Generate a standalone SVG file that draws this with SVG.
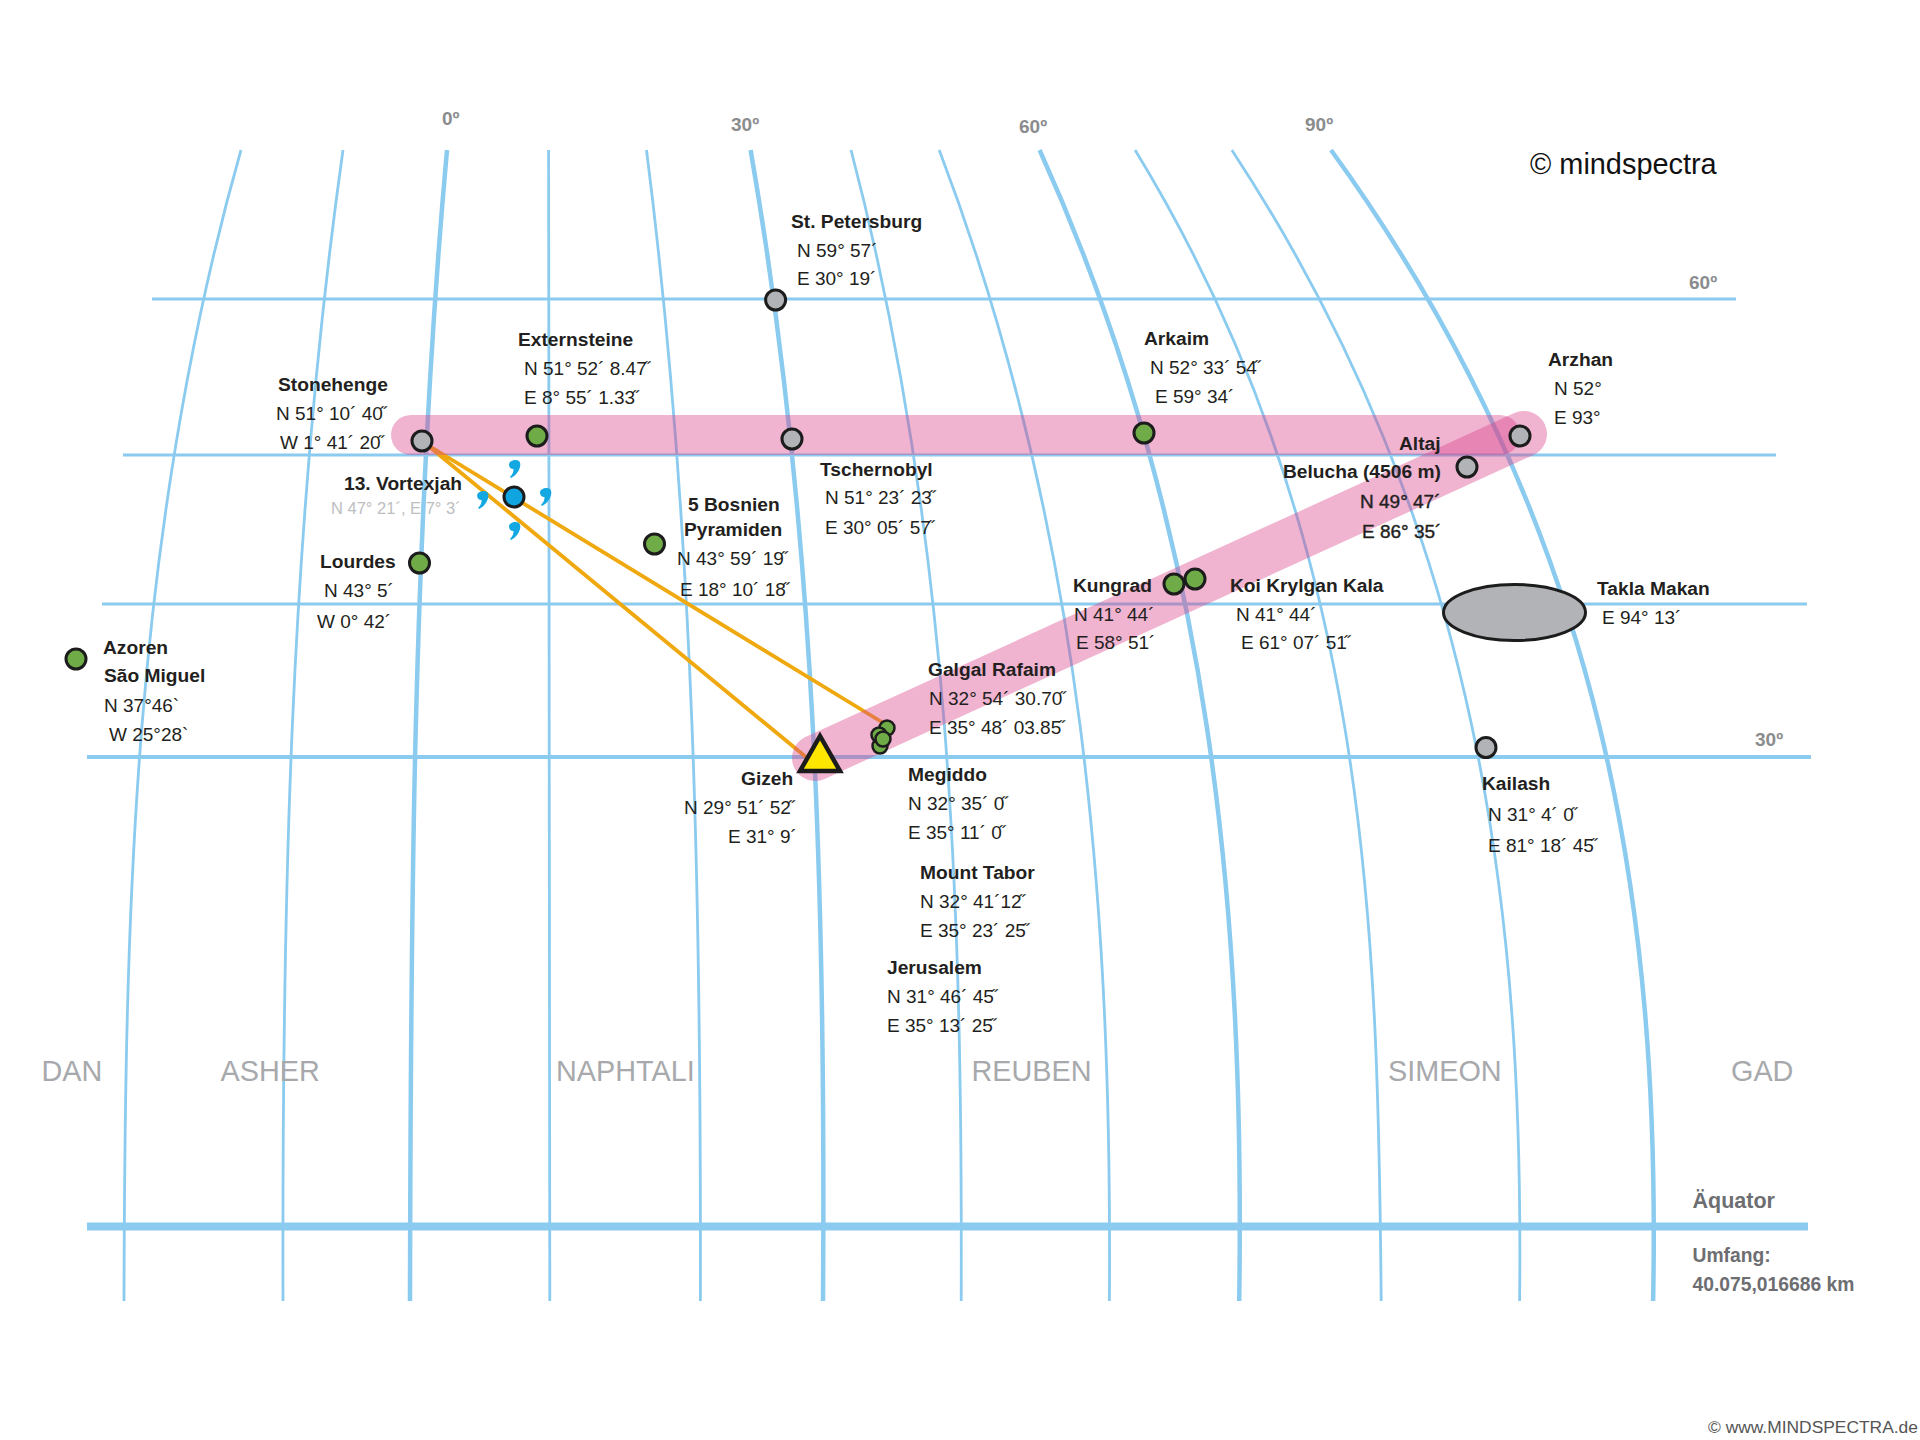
<svg xmlns="http://www.w3.org/2000/svg" width="1920" height="1440" viewBox="0 0 1920 1440">
<style>
text{font-family:"Liberation Sans",Arial,sans-serif;font-size:19px;fill:#231f20}
.b{font-weight:700;font-size:19.2px}
.s{stroke:#231f20;stroke-width:.4}
.g{font-weight:700;fill:#8a8c8e}
.z{font-size:28.800px;fill:#a7a9ac}
.e{font-weight:700;fill:#6d6e71;font-size:19.300px}
.m{fill:none;stroke:#8bcbef;stroke-width:2.800}
.mt{fill:none;stroke:#8bcbef;stroke-width:4.500}
.p{stroke:#8bcbef;stroke-width:3.200}
.band{fill:none;stroke:#d9408a;stroke-opacity:.4;stroke-linecap:round}
.o{stroke:#f0a80f;stroke-width:3.800;fill:none}
.dot{stroke:#1c1c1c;stroke-width:3}
.gr{fill:#b1b3b6}
.gn{fill:#6fab46}
.q{dx:0}
</style>
<defs>
<path id="comma" fill="#14a8e2" d="M1-9C5.500-9 6.500-5.500 5.500-2 4.500 2 1 7-3.500 9L-4.500 8C-2 5.500-1 3-1 0-4 0-5.500-2-5.500-4.500-5.500-7.500-2-9 1-9Z"/>
</defs>
<rect width="1920" height="1440" fill="#fff"/>
<g id="grid">
<path class="m" d="M241 150C132 533 125 917 124 1301"/>
<path class="m" d="M343 150C289 533 282 917 283 1301"/>
<path class="mt" d="M447 150C412.500 533 410.700 917 410 1301"/>
<path class="m" d="M548.600 150C549.800 533 549.800 917 549.800 1301"/>
<path class="m" d="M646.500 150C695.200 533 701.100 917 700.400 1301"/>
<path class="mt" d="M750.600 150C817 533 825.700 917 823 1301"/>
<path class="m" d="M851 150C951.700 533 962.500 917 961.200 1301"/>
<path class="m" d="M939.200 150C1085.200 533 1112 917 1109.400 1301"/>
<path class="mt" d="M1039.600 150C1213.100 533 1244.800 917 1239.200 1301"/>
<path class="m" d="M1135.100 150C1368.500 533 1377.800 917 1381.200 1301"/>
<path class="m" d="M1231.800 150C1483.400 533 1523.900 917 1519.600 1301"/>
<path class="mt" d="M1331 150C1608.900 533 1660.700 917 1653.100 1301"/>
<path class="p" d="M152 299H1736M123 455H1776M102 604H1807"/>
<path class="p" style="stroke-width:4" d="M87 757H1811"/>
<path fill="none" stroke="#8bcbef" stroke-width="8" d="M87 1226.500H1808"/>
</g>
<g id="connectors">
<path class="o" d="M426 444L812 762M426 444L885 724"/>
<path class="band" stroke-width="40" d="M411 435H1500"/>
<path class="band" stroke-width="46" d="M815 758L1524 434"/>
</g>
<g id="axis-labels">
<text class="g" x="442" y="125">0º</text>
<text class="g" x="731" y="131">30º</text>
<text class="g" x="1019" y="133">60º</text>
<text class="g" x="1305" y="131">90º</text>
<text class="g" x="1689" y="289">60º</text>
<text class="g" x="1755" y="746">30º</text>
</g>
<g id="credit"><text x="1530" y="174" style="font-size:28.900px;fill:#111">© mindspectra</text></g>
<g id="st-petersburg"><circle class="dot gr" cx="775.600" cy="300" r="10"/>
<text class="b" x="791" y="228">St. Petersburg</text><text x="797" y="257">N 59° 57´</text><text x="797" y="285">E 30° 19´</text></g>
<g id="stonehenge"><circle class="dot gr" cx="422" cy="441" r="10"/>
<text class="b" x="278" y="391">Stonehenge</text><text x="276" y="420">N 51° 10´ 40<tspan dx="-3">˝</tspan></text><text x="280" y="449">W 1° 41´ 20<tspan dx="-3">˝</tspan></text></g>
<g id="externsteine"><circle class="dot gn" cx="537" cy="436" r="10"/>
<text class="b" x="518" y="346">Externsteine</text><text x="524" y="375">N 51° 52´ 8.47<tspan dx="-3">˝</tspan></text><text x="524" y="404">E 8° 55´ 1.33<tspan dx="-3">˝</tspan></text></g>
<g id="tschernobyl"><circle class="dot gr" cx="792" cy="439" r="10"/>
<text class="b" x="820" y="476">Tschernobyl</text><text x="825" y="504">N 51° 23´ 23<tspan dx="-3">˝</tspan></text><text x="825" y="534">E 30° 05´ 57<tspan dx="-3">˝</tspan></text></g>
<g id="arkaim"><circle class="dot gn" cx="1144" cy="433" r="10"/>
<text class="b" x="1144" y="345">Arkaim</text><text x="1150" y="374">N 52° 33´ 54<tspan dx="-3">˝</tspan></text><text x="1155" y="403">E 59° 34´</text></g>
<g id="arzhan"><circle class="dot gr" cx="1520" cy="436" r="10"/>
<text class="b" x="1548" y="366">Arzhan</text><text x="1554" y="395">N 52°</text><text x="1554" y="424">E 93°</text></g>
<g id="belucha"><circle class="dot gr" cx="1467" cy="467" r="10"/>
<text class="b" x="1399" y="450">Altaj</text><text class="b" x="1283" y="478">Belucha (4506 m)</text><text class="s" x="1360" y="508">N 49° 47´</text><text class="s" x="1362" y="538">E 86° 35´</text></g>
<g id="vortexjah">
<use href="#comma" x="514.500" y="469"/><use href="#comma" x="482.600" y="500"/><use href="#comma" x="545.500" y="497"/><use href="#comma" x="514.500" y="531"/>
<circle cx="514" cy="497" r="10" fill="#10a4e0" stroke="#1c1c1c" stroke-width="3"/>
<text class="b" x="344" y="490">13. Vortexjah</text><text x="331" y="514" style="font-size:16.500px;fill:#bcbec0">N 47° 21´, E 7° 3´</text></g>
<g id="lourdes"><circle class="dot gn" cx="419.500" cy="563" r="10"/>
<text class="b" x="320" y="568">Lourdes</text><text x="324" y="597">N 43° 5´</text><text x="317" y="628">W 0° 42´</text></g>
<g id="bosnien"><circle class="dot gn" cx="654.500" cy="544" r="10"/>
<text class="b" x="688" y="511">5 Bosnien</text><text class="b" x="684" y="536">Pyramiden</text><text x="677" y="565">N 43° 59´ 19<tspan dx="-3">˝</tspan></text><text x="680" y="596">E 18° 10´ 18<tspan dx="-3">˝</tspan></text></g>
<g id="azoren"><circle class="dot gn" cx="76" cy="659" r="10"/>
<text class="b" x="103" y="654">Azoren</text><text class="b" x="104" y="682">São Miguel</text><text x="104" y="712">N 37°46`</text><text x="109" y="741">W 25°28`</text></g>
<g id="kungrad"><circle class="dot gn" cx="1174" cy="584" r="10"/>
<text class="b" x="1073" y="592">Kungrad</text><text x="1074" y="621">N 41° 44´</text><text x="1076" y="649">E 58° 51´</text></g>
<g id="koi-krylgan-kala"><circle class="dot gn" cx="1195" cy="579" r="10"/>
<text class="b" x="1230" y="592">Koi Krylgan Kala</text><text x="1236" y="621">N 41° 44´</text><text x="1241" y="649">E 61° 07´ 51<tspan dx="-3">˝</tspan></text></g>
<g id="takla-makan"><ellipse class="dot gr" cx="1514.500" cy="612.500" rx="71" ry="28"/>
<text class="b" x="1597" y="595">Takla Makan</text><text x="1602" y="624">E 94° 13´</text></g>
<g id="kailash"><circle class="dot gr" cx="1486" cy="747.500" r="10"/>
<text class="b" x="1482" y="790">Kailash</text><text x="1488" y="821">N 31° 4´ 0<tspan dx="-3">˝</tspan></text><text x="1488" y="852">E 81° 18´ 45<tspan dx="-3">˝</tspan></text></g>
<g id="gizeh"><path d="M820 736L800 771H840Z" fill="#ffe600" stroke="#1c1c1c" stroke-width="4.500"/>
<text class="b" x="741" y="785">Gizeh</text><text x="684" y="814">N 29° 51´ 52<tspan dx="-3">˝</tspan></text><text x="728" y="843">E 31° 9´</text></g>
<g id="galgal-rafaim"><circle class="dot gn" cx="887" cy="728" r="7.500" style="stroke-width:2.500"/>
<text class="b" x="928" y="676">Galgal Rafaim</text><text x="929" y="705">N 32° 54´ 30.70<tspan dx="-3">˝</tspan></text><text x="929" y="734">E 35° 48´ 03.85<tspan dx="-3">˝</tspan></text></g>
<g id="jerusalem"><circle class="dot gn" cx="880" cy="746" r="7.500" style="stroke-width:2.500"/>
<text class="b" x="887" y="974">Jerusalem</text><text x="887" y="1003">N 31° 46´ 45<tspan dx="-3">˝</tspan></text><text x="887" y="1032">E 35° 13´ 25<tspan dx="-3">˝</tspan></text></g>
<g id="megiddo"><circle class="dot gn" cx="879" cy="735" r="7.500" style="stroke-width:2.500"/>
<text class="b" x="908" y="781">Megiddo</text><text x="908" y="810">N 32° 35´ 0<tspan dx="-3">˝</tspan></text><text x="908" y="839">E 35° 11´ 0<tspan dx="-3">˝</tspan></text></g>
<g id="mount-tabor"><circle class="dot gn" cx="883" cy="739" r="7.500" style="stroke-width:2.500"/>
<text class="b" x="920" y="879">Mount Tabor</text><text x="920" y="908">N 32° 41´12<tspan dx="-3">˝</tspan></text><text x="920" y="937">E 35° 23´ 25<tspan dx="-3">˝</tspan></text></g>
<g id="tribes">
<text class="z" x="41.500" y="1081">DAN</text>
<text class="z" x="220.500" y="1081">ASHER</text>
<text class="z" x="556" y="1081">NAPHTALI</text>
<text class="z" x="971.500" y="1081">REUBEN</text>
<text class="z" x="1388" y="1081">SIMEON</text>
<text class="z" x="1731" y="1081">GAD</text>
</g>
<g id="equator-note">
<text class="e" x="1692.500" y="1208" style="font-size:21.500px">Äquator</text>
<text class="e" x="1692.500" y="1262">Umfang:</text>
<text class="e" x="1692.500" y="1291">40.075,016686 km</text>
</g>
<g id="footer"><text x="1708" y="1433" style="font-size:17.400px;fill:#555">© www.MINDSPECTRA.de</text></g>
</svg>
